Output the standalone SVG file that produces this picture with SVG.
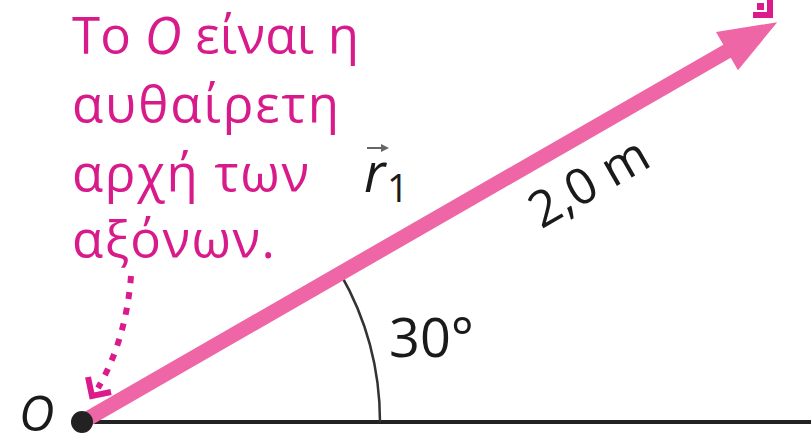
<svg xmlns="http://www.w3.org/2000/svg" width="811" height="436" viewBox="0 0 811 436">
<defs>
<style>
.note{font-family:"Open Sans","Noto Sans",sans-serif;font-size:51px;fill:#D81B8B}
.lbl{font-family:"Open Sans","Noto Sans",sans-serif;fill:#1a1a1a}
.dots{fill:none;stroke:#DC1A8C;stroke-width:6;stroke-dasharray:7 9}
.head{fill:none;stroke:#DC1A8C;stroke-width:6;stroke-linejoin:miter}
</style>
</defs>
<rect width="811" height="436" fill="#fff"/>
<g id="note">
<text class="note" x="72" y="54" textLength="287">Το <tspan font-style="italic">O</tspan> είναι η</text>
<text class="note" x="72" y="123" textLength="267">αυθαίρετη</text>
<text class="note" x="72" y="192" textLength="237">αρχή των</text>
<text class="note" x="72" y="258" textLength="203">αξόνων.</text>
</g>
<g id="connectors">
<path class="dots" d="M131,276 Q126,340 98,388"/>
<polyline class="head" points="88,377 92,396 111,392"/>
<polyline class="head" points="753,15 770,15 770,0"/>
<rect x="757" y="3" width="7" height="7" fill="#DC1A8C"/>
</g>
<g id="axis">
<line x1="82" y1="422" x2="811" y2="422" stroke="#222" stroke-width="4"/>
<path d="M380,422 A298,298 0 0 0 340,273" fill="none" stroke="#333" stroke-width="2.5"/>
</g>
<g id="vector" transform="translate(82,422) rotate(-29.9)">
<line x1="0" y1="0" x2="750" y2="0" stroke="#EE66A6" stroke-width="15"/>
<polygon points="802,0 744,-22 744,22" fill="#EE66A6"/>
</g>
<g id="origin">
<circle cx="82" cy="422" r="11" fill="#222"/>
<text class="lbl" x="19" y="431" font-size="49" font-style="italic">O</text>
</g>
<g id="r1">
<text class="lbl" x="364" y="192" font-size="54" font-style="italic">r</text>
<text class="lbl" x="387" y="202" font-size="38">1</text>
<line x1="367" y1="148" x2="385" y2="148" stroke="#666" stroke-width="2"/>
<polygon points="389,148 381,144 381,152" fill="#666"/>
</g>
<g id="length">
<text class="lbl" font-size="50" transform="translate(82,422) rotate(-29.9)" x="494" y="62">2,0 m</text>
</g>
<g id="angle">
<text class="lbl" x="389" y="357" font-size="54">30°</text>
</g>
</svg>
